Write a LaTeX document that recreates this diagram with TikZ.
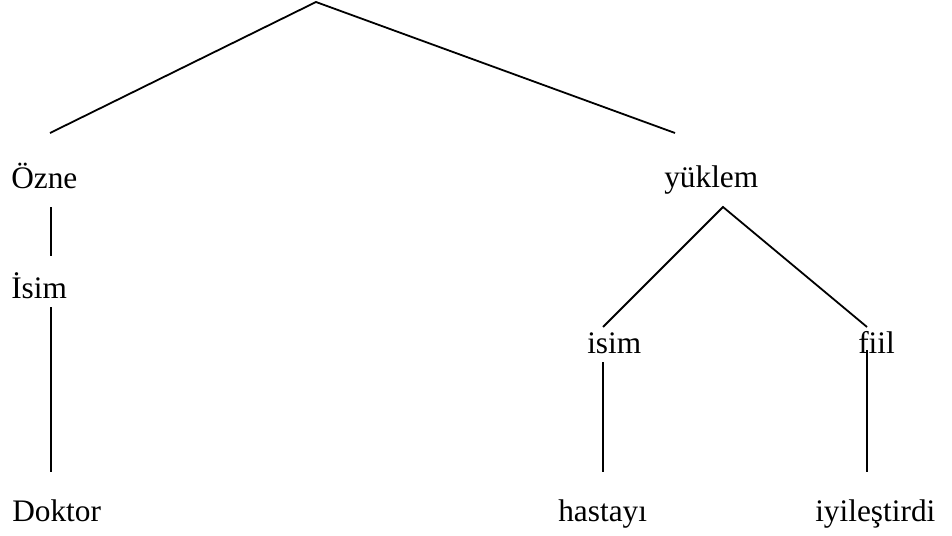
\documentclass[tikz,border=0pt]{standalone}
\usepackage{fontspec}
\setmainfont{Liberation Serif}
\begin{document}
\begin{tikzpicture}[x=0.75pt,y=-0.75pt,
  lbl/.style={anchor=base west,inner sep=0pt,font=\fontsize{23.5}{28}\selectfont},
  edge/.style={line width=1.35pt}]
\useasboundingbox (0,0) rectangle (952,535);
% labels
\node[lbl] (ozne) at (11,188) {Özne};
\node[lbl] (Isim) at (11,298) {İsim};
\node[lbl] (doktor) at (12,521) {Doktor};
\node[lbl] (yuklem) at (664,187) {yüklem};
\node[lbl] (isim) at (587,353) {isim};
\node[lbl] (fiil) at (858,353) {fiil};
\node[lbl] (hastayi) at (558,521) {hastayı};
\node[lbl] (iyi) at (815,521) {iyileştirdi};
% coordinates
\coordinate (root) at (316,2);
\coordinate (rl) at (50,133);
\coordinate (rr) at (675,133);
\coordinate (oz1) at (51,207);
\coordinate (oz2) at (51,256);
\coordinate (is1) at (51,307);
\coordinate (is2) at (51,472);
\coordinate (yk) at (723,207);
\coordinate (yl) at (603,327);
\coordinate (yr) at (867,327);
\coordinate (ii1) at (603,362);
\coordinate (ii2) at (603,472);
\coordinate (fi1) at (867,350);
\coordinate (fi2) at (867,472);
% connectors
\draw[edge] (rl) -- (root) -- (rr);
\draw[edge] (oz1) -- (oz2);
\draw[edge] (is1) -- (is2);
\draw[edge] (yl) -- (yk) -- (yr);
\draw[edge] (ii1) -- (ii2);
\draw[edge] (fi1) -- (fi2);
\end{tikzpicture}
\end{document}
